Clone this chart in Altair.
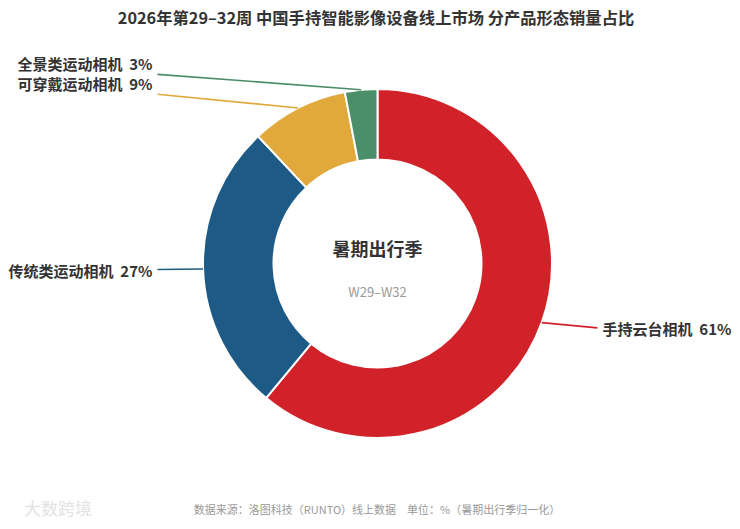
import math
import pandas as pd
import altair as alt

# ---- data ----
categories = ["手持云台相机", "传统类运动相机", "可穿戴运动相机", "全景类运动相机"]
shares = [61, 27, 9, 3]
colors = ["#D22229", "#1E5A86", "#E1A93C", "#4B8E6A"]

title_text = "2026年第29–32周 中国手持智能影像设备线上市场 分产品形态销量占比"
center_main = "暑期出行季"
center_sub = "W29–W32"
footer_text = "数据来源：洛图科技（RUNTO）线上数据　单位：%（暑期出行季归一化）"
watermark_text = "大数跨境"

# ---- layout ----
W, H = 724, 512
CX, CY = 369.5, 255.5
R_OUT, R_IN = 174.5, 104
R_LBL = 190
X_OFF = 220
FONT = "Noto Sans CJK SC"

df = pd.DataFrame({"category": categories, "share": shares, "idx": range(len(categories))})

# leader lines + label anchors derived from slice angles
total = sum(shares)
line_rows, label_rows = [], []
cum = 0
for i, (c, v) in enumerate(zip(categories, shares)):
    mid = (cum + v / 2) / total * 2 * math.pi
    cum += v
    s, co = math.sin(mid), math.cos(mid)
    side = 1 if s >= 0 else -1
    sx, sy = CX + R_OUT * s, CY - R_OUT * co
    ex, ey = CX + side * X_OFF, CY - R_LBL * co
    line_rows.append({"category": c, "k": 0, "px": sx, "py": sy})
    line_rows.append({"category": c, "k": 1, "px": ex, "py": ey})
    ty = ey - 9 if co > 0.7 else ey + 2.5
    label_rows.append({"category": c, "side": "R" if side > 0 else "L",
                       "tx": ex + side * 5, "ty": ty,
                       "label": f"{c}\u00a0\u00a0{v}%"})
lines_df = pd.DataFrame(line_rows)
labels_df = pd.DataFrame(label_rows)

color_scale = alt.Scale(domain=categories, range=colors)

arc = alt.Chart(df).mark_arc(
    radius=R_OUT, innerRadius=R_IN, stroke="white", strokeWidth=2
).encode(
    theta=alt.Theta("share:Q", stack=True),
    color=alt.Color("category:N", scale=color_scale, legend=None),
    order=alt.Order("idx:Q"),
    x=alt.value(CX),
    y=alt.value(CY),
)

leaders = alt.Chart(lines_df).mark_line(strokeWidth=1.6).encode(
    x=alt.X("px:Q", scale=None, axis=None),
    y=alt.Y("py:Q", scale=None, axis=None),
    color=alt.Color("category:N", scale=color_scale, legend=None),
    detail="category:N",
    order="k:Q",
)

def label_layer(side, align):
    return alt.Chart(labels_df).transform_filter(
        alt.datum.side == side
    ).mark_text(
        align=align, baseline="middle", font=FONT, fontSize=15,
        fontWeight="bold", color="#333333"
    ).encode(
        x=alt.X("tx:Q", scale=None, axis=None),
        y=alt.Y("ty:Q", scale=None, axis=None),
        text="label:N",
    )

labels_left = label_layer("L", "right")
labels_right = label_layer("R", "left")

def static_text(txt, x, y, size, color, weight="normal", align="center"):
    return alt.Chart(pd.DataFrame({"t": [txt]})).mark_text(
        align=align, baseline="middle", font=FONT, fontSize=size,
        fontWeight=weight, color=color
    ).encode(x=alt.value(x), y=alt.value(y), text="t:N")

title = static_text(title_text, 368, 10.5, 16.3, "#333333", "bold")
c_main = static_text(center_main, CX, 243, 18, "#333333", "bold")
c_sub = static_text(center_sub, CX, 285, 13, "#9a9a9a")
footer = static_text(footer_text, 369, 503, 11, "#999999")
watermark = static_text(watermark_text, 16, 502, 17, "#e2e2e2", "normal", "left")

chart = alt.layer(
    arc, leaders, labels_left, labels_right, title, c_main, c_sub, footer, watermark
).properties(
    width=W, height=H, autosize="none", padding=0
).configure_view(stroke=None)

chart.save("out.html", embed_options={"renderer": "svg", "actions": False})
